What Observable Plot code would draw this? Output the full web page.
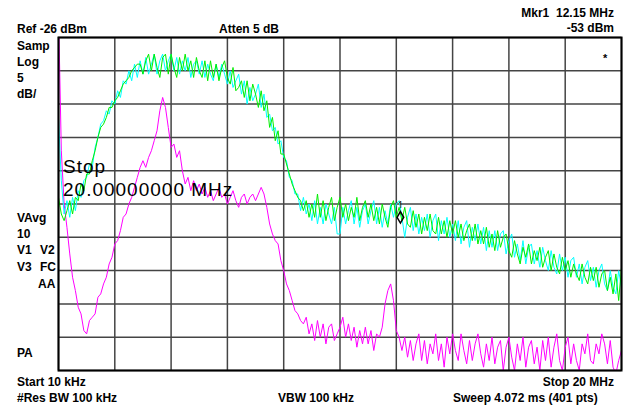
<!DOCTYPE html>
<html>
<head>
<meta charset="utf-8">
<script src="https://cdn.jsdelivr.net/npm/d3@7"></script>
<script src="https://cdn.jsdelivr.net/npm/@observablehq/plot@0.6"></script>
<style>
  html, body { margin: 0; padding: 0; background: #fff; }
  #wrap { position: relative; width: 630px; height: 407px; overflow: hidden; }
  #overlay { position: absolute; left: 0; top: 0; pointer-events: none; }
  #overlay text { font-family: "Liberation Sans", Arial, sans-serif; font-size: 12px; font-weight: bold; fill: #000; }
  #overlay text.big { font-size: 19px; font-weight: normal; letter-spacing: 1px; }
</style>
</head>
<body>
<div id="wrap"></div>
<script>
// Sweep settings (MHz, dBm)
const startMHz = 0.01;
const stopMHz = 20;
const refLevel = -26;
const dbPerDiv = 5;
const xTicks = [0.01, 2.009, 4.008, 6.007, 8.006, 10.005, 12.004, 14.003, 16.002, 18.001, 20];
const yTicks = [-26, -31, -36, -41, -46, -51, -56, -61, -66, -71, -76];
const marker = [{f: 12.15, v: -53, label: "1"}];

// Trace values (201 samples across the sweep, dBm)
const cyanTrace = [
  -38.0, -47.5, -52.5, -50.5, -53.0, -50.0, -52.0, -49.0, -50.0, -47.5,
  -47.0, -45.0, -45.5, -42.5, -41.0, -39.0, -38.5, -37.0, -37.5, -35.5,
  -36.0, -34.0, -35.0, -32.5, -33.0, -31.0, -32.5, -30.0, -32.0, -29.5,
  -31.5, -29.0, -31.5, -30.0, -28.5, -31.5, -29.5, -28.5, -31.0, -29.5,
  -28.5, -31.0, -29.0, -31.5, -29.5, -31.0, -29.0, -32.0, -30.0, -29.5,
  -31.5, -29.5, -32.0, -30.0, -31.5, -32.5, -30.0, -32.0, -30.0, -31.5,
  -33.0, -31.0, -33.5, -32.5, -31.5, -34.5, -32.5, -36.0, -33.5, -35.5,
  -34.5, -33.0, -36.5, -34.5, -38.0, -37.5, -40.0, -39.5, -42.0, -41.5,
  -44.0, -44.5, -47.0, -47.5, -49.5, -49.5, -52.0, -50.0, -52.5, -51.0,
  -53.5, -50.5, -54.0, -51.5, -54.0, -51.0, -52.5, -54.0, -51.5, -55.5,
  -55.5, -51.5, -54.0, -52.0, -50.5, -54.0, -51.5, -54.5, -52.0, -51.0,
  -54.0, -52.0, -50.5, -54.0, -51.5, -54.5, -52.0, -54.0, -51.0, -53.0,
  -51.0, -50.5, -53.0, -56.0, -53.0, -51.5, -55.0, -52.5, -55.5, -53.0,
  -55.0, -52.5, -56.0, -53.5, -52.5, -56.5, -53.5, -55.5, -53.0, -56.0,
  -54.0, -56.5, -53.5, -57.0, -54.5, -53.5, -57.5, -54.5, -56.5, -54.0,
  -57.0, -54.5, -58.0, -55.0, -57.5, -55.0, -58.0, -55.5, -55.0, -58.5,
  -56.5, -55.5, -59.0, -57.0, -59.5, -56.5, -60.0, -57.5, -57.0, -60.0,
  -58.0, -60.5, -57.5, -59.5, -61.0, -58.0, -60.5, -61.5, -58.5, -61.0,
  -59.0, -62.0, -59.5, -59.0, -62.0, -60.0, -63.0, -60.5, -59.5, -62.5,
  -60.5, -63.5, -61.0, -60.0, -63.0, -64.0, -61.0, -63.5, -64.5, -61.0,
  -63.5
];
const greenTrace = [
  -50.0, -52.5, -53.5, -52.0, -50.5, -52.5, -50.0, -50.5, -48.0, -49.0,
  -46.5, -46.5, -44.5, -43.0, -41.0, -39.5, -39.0, -38.0, -36.5, -36.5,
  -35.5, -35.0, -34.0, -33.0, -32.5, -32.0, -31.0, -30.5, -30.0, -30.0,
  -31.5, -29.5, -28.5, -31.0, -28.5, -30.5, -32.0, -29.0, -28.5, -31.5,
  -28.5, -30.5, -32.0, -29.0, -31.0, -28.5, -31.0, -29.5, -32.0, -29.0,
  -31.0, -32.0, -29.5, -32.5, -29.5, -32.0, -30.0, -32.5, -30.5, -29.5,
  -32.0, -33.0, -30.5, -34.0, -33.5, -32.5, -35.0, -32.5, -35.5, -33.0,
  -34.5, -36.5, -34.0, -37.0, -35.5, -39.5, -38.0, -41.5, -40.0, -43.5,
  -43.5, -45.0, -46.5, -48.0, -49.0, -50.0, -50.5, -52.0, -50.5, -53.0,
  -51.0, -53.0, -49.5, -53.0, -50.5, -53.5, -51.5, -50.0, -53.5, -51.5,
  -50.0, -53.0, -51.0, -53.5, -51.5, -53.0, -50.0, -53.5, -51.5, -50.5,
  -53.0, -51.0, -53.5, -51.5, -54.0, -51.0, -53.0, -54.5, -51.5, -50.5,
  -53.0, -51.5, -53.5, -51.5, -54.0, -54.5, -52.0, -54.5, -52.5, -55.5,
  -53.0, -55.0, -52.5, -55.0, -55.5, -53.0, -55.5, -53.5, -56.0, -53.5,
  -55.5, -53.5, -56.0, -54.0, -56.5, -55.0, -54.0, -56.5, -54.0, -57.0,
  -55.0, -57.0, -54.5, -57.5, -55.5, -58.0, -55.0, -57.5, -56.0, -55.5,
  -58.0, -59.0, -56.5, -58.5, -60.0, -57.5, -59.0, -57.0, -60.0, -58.0,
  -59.5, -57.5, -60.5, -59.0, -58.0, -61.0, -58.5, -60.5, -61.5, -59.0,
  -61.0, -59.5, -62.0, -60.0, -61.5, -62.5, -60.0, -62.0, -63.0, -60.5,
  -62.5, -60.5, -63.5, -61.5, -61.0, -64.0, -62.0, -64.5, -61.5, -65.5,
  -60.5
];
const magentaTrace = [
  -22.0, -43.0, -51.0, -54.5, -58.5, -62.0, -64.0, -66.5, -67.5, -70.0,
  -70.5, -68.5, -68.0, -67.5, -65.0, -64.5, -63.0, -62.0, -60.0, -59.0,
  -57.0, -56.5, -55.0, -53.0, -52.5, -51.0, -50.0, -48.5, -47.0, -45.5,
  -44.5, -45.5, -44.0, -43.0, -41.5, -40.0, -37.0, -35.0, -36.5, -39.5,
  -42.5, -42.0, -44.0, -43.0, -46.0, -48.0, -47.0, -49.0, -47.5, -49.0,
  -48.0, -49.5, -48.5, -50.0, -49.0, -50.5, -49.5, -48.5, -50.0, -49.5,
  -51.0, -50.0, -49.0, -50.5, -51.5, -50.0, -49.5, -51.0, -50.0, -49.5,
  -50.5, -49.5, -48.5, -49.5, -51.5, -54.0, -55.5, -56.5, -57.0, -59.5,
  -61.0, -63.0, -64.0, -65.5, -67.0, -67.5, -68.5, -69.0, -68.0, -70.5,
  -69.0, -71.5, -68.5, -71.0, -69.0, -72.0, -69.5, -69.0, -71.5, -70.5,
  -69.5, -68.0, -71.0, -69.0, -71.5, -69.5, -72.5, -70.0, -72.0, -69.5,
  -72.0, -70.0, -73.0, -70.5, -71.0, -69.5, -66.0, -64.0, -63.0, -65.5,
  -70.0, -71.0, -73.0, -71.0, -74.0, -71.5, -74.5, -72.0, -70.5, -74.5,
  -71.5, -75.0, -72.0, -73.5, -70.5, -74.5, -72.0, -75.5, -71.0, -73.5,
  -70.5, -73.0, -74.5, -70.5, -73.0, -75.0, -71.5, -74.5, -72.0, -70.5,
  -73.5, -75.5, -72.0, -74.5, -71.0, -75.0, -72.5, -71.5, -76.0, -72.5,
  -71.0, -74.0, -76.0, -72.0, -74.5, -71.0, -75.5, -72.5, -71.5, -75.0,
  -72.5, -76.0, -71.5, -74.5, -71.0, -75.5, -72.5, -70.5, -74.5, -76.0,
  -72.5, -71.0, -75.0, -72.0, -74.5, -76.0, -72.0, -73.5, -70.5, -74.5,
  -75.0, -72.0, -73.5, -70.5, -72.0, -75.0, -71.5, -75.5, -76.5, -74.5,
  -73.0
];

// sweep frequency of each sample (linear sweep from start to stop)
const n = cyanTrace.length;
const freqs = cyanTrace.map((_, i) => startMHz + (stopMHz - startMHz) * i / (n - 1));
const toRows = (arr) => arr.map((v, i) => ({f: freqs[i], v}));
const cyanRows = toRows(cyanTrace);
const greenRows = toRows(greenTrace);
const magentaRows = toRows(magentaTrace);

const plot = Plot.plot({
  width: 630,
  height: 407,
  marginLeft: 58,
  marginRight: 9,
  marginTop: 37,
  marginBottom: 37,
  x: {domain: [startMHz, stopMHz], axis: null},
  y: {domain: [refLevel - 10 * dbPerDiv, refLevel], axis: null},
  style: {background: "#fff"},
  marks: [
    Plot.ruleX(xTicks, {stroke: "#444", strokeWidth: 1.5}),
    Plot.ruleY(yTicks, {stroke: "#444", strokeWidth: 1.5}),
    Plot.line(magentaRows, {x: "f", y: "v", stroke: "#ff00ff", strokeWidth: 1, clip: true}),
    Plot.line(cyanRows, {x: "f", y: "v", stroke: "#00ffff", strokeWidth: 1, clip: true}),
    Plot.line(greenRows, {x: "f", y: "v", stroke: "#00ee00", strokeWidth: 1, clip: true}),
    Plot.dot(marker, {x: "f", y: "v", symbol: "diamond", r: 3.5, stroke: "#000", strokeWidth: 1.5, fill: "none"}),
    Plot.text(marker, {x: "f", y: "v", text: "label", dy: -12, fontSize: 8, fill: "#000"}),
    Plot.frame({stroke: "#000", strokeWidth: 2})
  ]
});

const wrap = document.getElementById("wrap");
wrap.appendChild(plot);

// instrument annotations
const labels = [
  {t: "Ref -26 dBm", x: 17, y: 33},
  {t: "Atten 5 dB", x: 219, y: 33},
  {t: "Mkr1  12.15 MHz", x: 614, y: 17, a: "end"},
  {t: "-53 dBm", x: 614, y: 32, a: "end"},
  {t: "Samp", x: 17, y: 50},
  {t: "Log", x: 17, y: 66},
  {t: "5", x: 17, y: 82},
  {t: "dB/", x: 17, y: 98},
  {t: "VAvg", x: 17, y: 222},
  {t: "10", x: 17, y: 238},
  {t: "V1", x: 17, y: 254},
  {t: "V2", x: 40, y: 254},
  {t: "V3", x: 17, y: 271},
  {t: "FC", x: 40, y: 271},
  {t: "AA", x: 38, y: 288},
  {t: "PA", x: 17, y: 357},
  {t: "Start 10 kHz", x: 17, y: 386},
  {t: "Stop 20 MHz", x: 614, y: 386, a: "end"},
  {t: "#Res BW 100 kHz", x: 17, y: 402},
  {t: "VBW 100 kHz", x: 278, y: 402},
  {t: "Sweep 4.072 ms (401 pts)", x: 453, y: 402},
  {t: "*", x: 603, y: 62, fs: 11, fw: "bold"}
];
const big = [
  {t: "Stop", x: 63, y: 173},
  {t: "20.00000000 MHz", x: 63, y: 196}
];
const ns = "http://www.w3.org/2000/svg";
const ov = document.createElementNS(ns, "svg");
ov.setAttribute("id", "overlay");
ov.setAttribute("width", 630);
ov.setAttribute("height", 407);
for (const l of labels) {
  const e = document.createElementNS(ns, "text");
  e.setAttribute("x", l.x);
  e.setAttribute("y", l.y);
  if (l.a) e.setAttribute("text-anchor", l.a);
  if (l.fs) e.style.fontSize = l.fs + "px";
  if (l.fw) e.style.fontWeight = l.fw;
  e.style.whiteSpace = "pre";
  e.textContent = l.t;
  ov.appendChild(e);
}
for (const l of big) {
  const e = document.createElementNS(ns, "text");
  e.setAttribute("x", l.x);
  e.setAttribute("y", l.y);
  e.setAttribute("class", "big");
  e.textContent = l.t;
  ov.appendChild(e);
}
wrap.appendChild(ov);
</script>
</body>
</html>
